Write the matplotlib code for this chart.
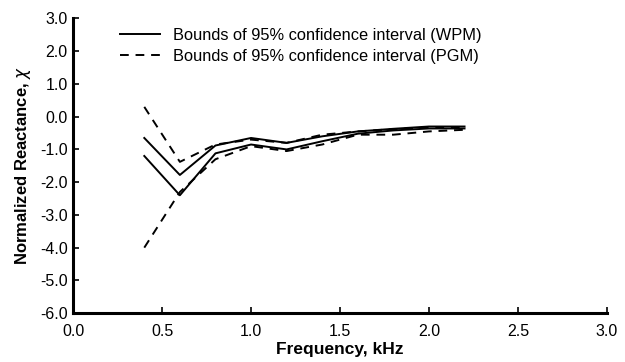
import matplotlib
matplotlib.use('Agg')
import matplotlib.pyplot as plt
import numpy as np

plt.rcParams['font.family'] = ['Liberation Sans', 'DejaVu Sans']
plt.rcParams['axes.unicode_minus'] = False

# frequency points (kHz)
freq = [0.4, 0.6, 0.8, 1.0, 1.2, 1.4, 1.6, 1.8, 2.0, 2.2]

# 95% confidence bounds, WPM
wpm_upper = [-0.65, -1.78, -0.88, -0.65, -0.80, -0.60, -0.45, -0.37, -0.30, -0.30]
wpm_lower = [-1.20, -2.40, -1.12, -0.85, -1.00, -0.75, -0.52, -0.42, -0.36, -0.36]

# 95% confidence bounds, PGM
pgm_upper = [0.30, -1.38, -0.85, -0.70, -0.80, -0.55, -0.45, -0.38, -0.33, -0.33]
pgm_lower = [-4.00, -2.30, -1.30, -0.90, -1.05, -0.85, -0.55, -0.55, -0.45, -0.40]

xticks = np.arange(0, 3.01, 0.5)
yticks = np.arange(-6, 3.01, 1.0)

fig = plt.figure(figsize=(6.25, 3.62), dpi=100)
ax = fig.add_axes([0.117, 0.135, 0.854, 0.814])

dash = (0, (4.5, 3.5))
ax.plot(freq, wpm_upper, color='black', lw=1.4, label='Bounds of 95% confidence interval (WPM)')
ax.plot(freq, wpm_lower, color='black', lw=1.4)
ax.plot(freq, pgm_upper, color='black', lw=1.4, linestyle=dash,
        label='Bounds of 95% confidence interval (PGM)')
ax.plot(freq, pgm_lower, color='black', lw=1.4, linestyle=dash)

ax.set_xlim(0, 3.0)
ax.set_ylim(-6.0, 3.0)
ax.set_xticks(xticks)
ax.set_yticks(yticks)
ax.set_xticklabels(['%.1f' % v for v in xticks])
ax.set_yticklabels(['%.1f' % v for v in yticks])
ax.tick_params(direction='in', length=4, width=1.2, labelsize=11.5)
ax.tick_params(axis='x', pad=8)
ax.tick_params(axis='y', pad=4)

for s in ['top', 'right']:
    ax.spines[s].set_visible(False)
for s in ['left', 'bottom']:
    ax.spines[s].set_linewidth(2.2)

ax.set_xlabel('Frequency, kHz', fontsize=12.5, fontweight='bold', labelpad=2)
ax.set_ylabel('Normalized Reactance, $\\chi$', fontsize=12, fontweight='bold', labelpad=5)

ax.legend(loc='upper left', bbox_to_anchor=(0.088, 0.968), frameon=False,
          borderpad=0, borderaxespad=0,
          fontsize=11.8, handlelength=2.45, handletextpad=0.75, labelspacing=0.35)

fig.savefig('out.png', dpi=100)
